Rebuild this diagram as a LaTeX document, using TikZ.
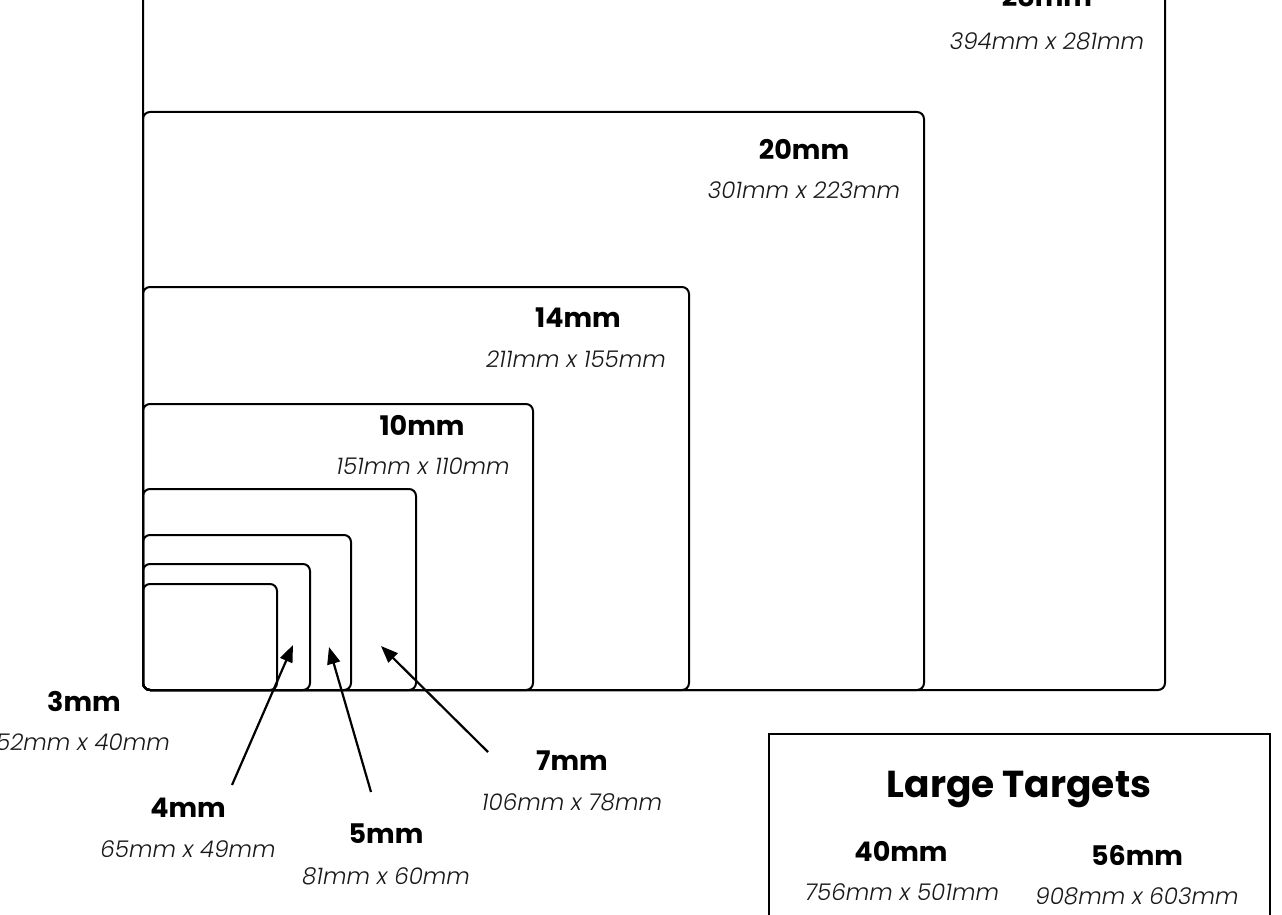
\documentclass[tikz,border=0pt]{standalone}
\usepackage{fontspec}
\setmainfont{Poppins}
\newfontfamily\dimfont{Poppins Light}[ItalicFont={Poppins Light Italic}]
\usetikzlibrary{arrows.meta, positioning}

\begin{document}
\begin{tikzpicture}[
    x=1pt, y=-1pt,
    targetbox/.style={rectangle, rounded corners=7pt, draw=black, line width=2pt,
                      anchor=south west, inner sep=0pt, outer sep=0pt},
    sizelabel/.style={font=\fontsize{27}{30}\selectfont\bfseries},
    dimlabel/.style={font=\fontsize{23}{26}\selectfont\dimfont\itshape, text=black!90},
    pointer/.style={-{Triangle[length=17pt, width=13pt]}, line width=2.2pt}
]
    \clip (0,0) rectangle (1282,915);
    \fill[white] (0,0) rectangle (1282,915);

    % nested target boxes, all sharing the lower left corner
    \node[targetbox, minimum width=1022pt, minimum height=740pt] (b28) at (143,690) {};
    \node[targetbox, minimum width=781pt, minimum height=578pt] (b20) at (143,690) {};
    \node[targetbox, minimum width=546pt, minimum height=403pt] (b14) at (143,690) {};
    \node[targetbox, minimum width=390pt, minimum height=286pt] (b10) at (143,690) {};
    \node[targetbox, minimum width=273pt, minimum height=201pt] (b7) at (143,690) {};
    \node[targetbox, minimum width=208pt, minimum height=155pt] (b5) at (143,690) {};
    \node[targetbox, minimum width=167pt, minimum height=126pt] (b4) at (143,690) {};
    \node[targetbox, minimum width=134pt, minimum height=106pt] (b3) at (143,690) {};

    % labels inside the boxes
    \node[sizelabel] (l28) at (1047,-3) {28mm};
    \node[dimlabel] (d28) at (1047,41) {394mm x 281mm};
    \node[sizelabel] (l20) at (804,149) {20mm};
    \node[dimlabel] (d20) at (804,190) {301mm x 223mm};
    \node[sizelabel] (l14) at (578,318) {14mm};
    \node[dimlabel] (d14) at (576,359) {211mm x 155mm};
    \node[sizelabel] (l10) at (422,425) {10mm};
    \node[dimlabel] (d10) at (423,466) {151mm x 110mm};

    % labels below the boxes
    \node[sizelabel] (l3) at (84,701) {3mm};
    \node[dimlabel] (d3) at (83,742) {52mm x 40mm};
    \node[sizelabel] (l4) at (188,808) {4mm};
    \node[dimlabel] (d4) at (188,849) {65mm x 49mm};
    \node[sizelabel] (l5) at (386,834) {5mm};
    \node[dimlabel] (d5) at (386,876) {81mm x 60mm};
    \node[sizelabel] (l7) at (572,761) {7mm};
    \node[dimlabel] (d7) at (572,802) {106mm x 78mm};

    % pointers
    \coordinate (s4) at (232,785);
    \coordinate (t4) at (293,645);
    \coordinate (s5) at (371,792);
    \coordinate (t5) at (329,647);
    \coordinate (s7) at (488,752);
    \coordinate (t7) at (381,646);
    \draw[pointer] (s4) -- (t4);
    \draw[pointer] (s5) -- (t5);
    \draw[pointer] (s7) -- (t7);

    % large targets panel
    \node[draw=black, line width=2pt, minimum width=501pt, minimum height=220pt,
          anchor=north west, inner sep=0pt] (lt) at (768,733) {};
    \node[font=\fontsize{37.5}{42}\selectfont\bfseries, anchor=base] (ltt) at (1019,797) {Large Targets};
    \node[sizelabel] (l40) at (901,851) {40mm};
    \node[dimlabel] (d40) at (902,892) {756mm x 501mm};
    \node[sizelabel] (l56) at (1137,855) {56mm};
    \node[dimlabel] (d56) at (1137,896) {908mm x 603mm};
\end{tikzpicture}
\end{document}
